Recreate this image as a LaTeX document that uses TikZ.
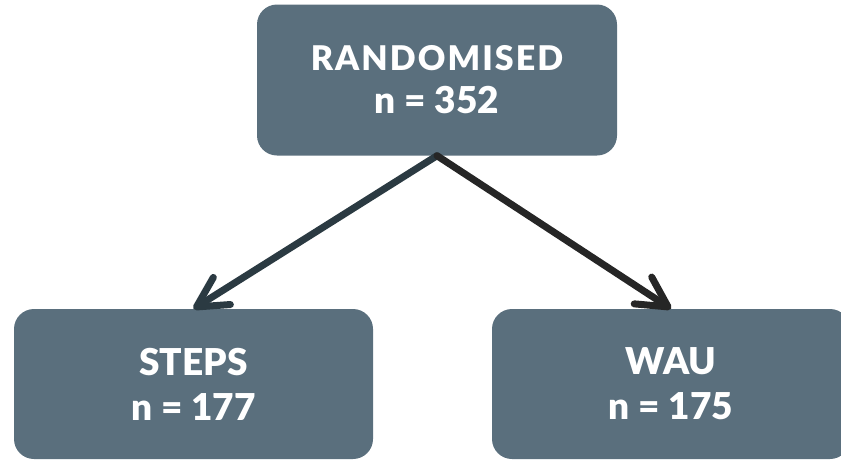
\documentclass[tikz,border=0pt]{standalone}
\usepackage{fontspec}
\setmainfont{Lato}[BoldFont={Lato Black}]
\usetikzlibrary{arrows.meta}
\definecolor{boxfill}{HTML}{5A6F7D}
\definecolor{arrowleft}{HTML}{2B3A42}
\definecolor{arrowright}{HTML}{262626}
\tikzset{
  groupbox/.style={draw=none, fill=boxfill, rounded corners=20pt, inner sep=0pt,
    text=white, align=center, font=\bfseries\fontsize{37}{45}\selectfont},
  flow/.style={line width=7pt, line cap=round,
    -{Straight Barb[length=30pt, width=32pt, line width=7pt, line cap=round, line join=round]}},
}
\begin{document}
\begin{tikzpicture}[x=1pt, y=-1pt]
  \useasboundingbox (0,0) rectangle (841,459);
  \node[groupbox, minimum width=360pt, minimum height=151pt] (rand) at (437,80)
    {{\fontsize{34}{43}\selectfont\addfontfeatures{LetterSpace=6}RANDOMISED}\\[-2pt]n = 352};
  \node[groupbox, minimum width=359pt, minimum height=150pt] (steps) at (193.5,384)
    {STEPS\\n = 177};
  \node[groupbox, minimum width=358pt, minimum height=150pt] (wau) at (671,384)
    {WAU\\n = 175};
  \draw[flow, arrowleft] (rand.south) -- (steps.north);
  \draw[flow, arrowright] (rand.south) -- (wau.north);
\end{tikzpicture}
\end{document}
